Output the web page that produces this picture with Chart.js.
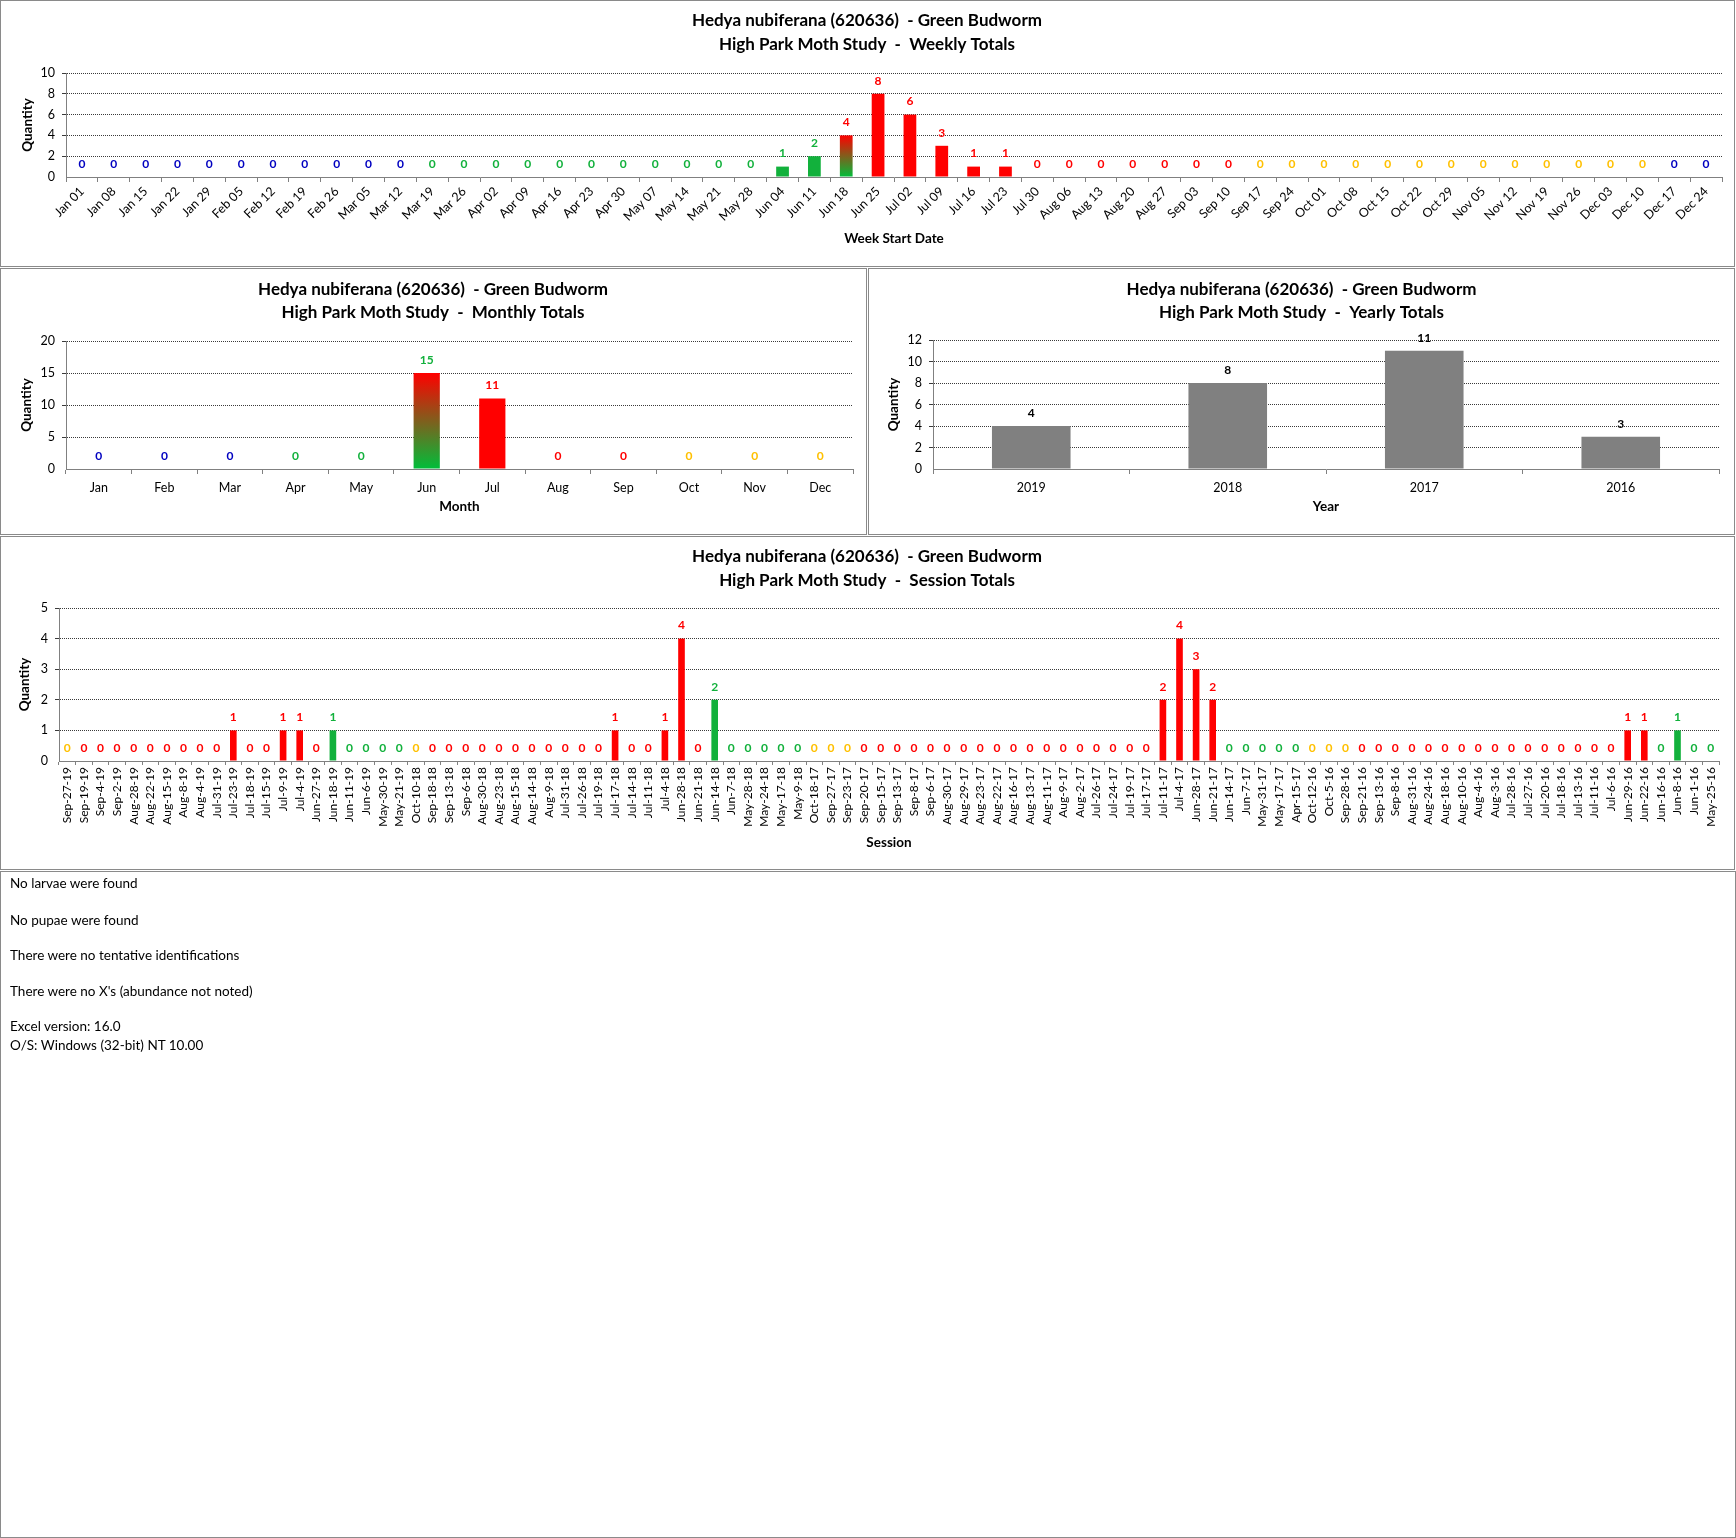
<!DOCTYPE html>
<html>
<head>
<meta charset="utf-8">
<script src="https://cdn.jsdelivr.net/npm/chart.js@4.4.1/dist/chart.umd.min.js"></script>
<style>
  html, body { margin: 0; padding: 0; background: #fff; }
  #page { position: relative; width: 1736px; height: 1538px; overflow: hidden; background: #fff; font-family: Lato, "Open Sans", sans-serif; }
  .panel { position: absolute; box-sizing: border-box; border: 1px solid #8a8a8a; }
  canvas { position: absolute; }
  .note { position: absolute; left: 10px; font-size: 13.5px; color: #000; white-space: nowrap; line-height: 16px; }
</style>
</head>
<body>
<div id="page">
  <canvas id="cWeek" width="1734" height="266" style="left:0;top:0"></canvas>
  <canvas id="cMonth" width="866" height="266" style="left:0;top:268px"></canvas>
  <canvas id="cYear" width="865" height="266" style="left:869px;top:268px"></canvas>
  <canvas id="cSession" width="1734" height="332" style="left:0;top:537px"></canvas>
  <div class="panel" style="left:0;top:0;width:1735px;height:267px"></div>
  <div class="panel" style="left:0;top:268px;width:867px;height:267px"></div>
  <div class="panel" style="left:868px;top:268px;width:867px;height:267px"></div>
  <div class="panel" style="left:0;top:536px;width:1735px;height:334px"></div>
  <div class="panel" style="left:0;top:871px;width:1736px;height:667px"></div>
  <div class="note" style="top:875px">No larvae were found</div>
  <div class="note" style="top:912px">No pupae were found</div>
  <div class="note" style="top:947px">There were no tentative identifications</div>
  <div class="note" style="top:983px">There were no X's (abundance not noted)</div>
  <div class="note" style="top:1018px">Excel version: 16.0</div>
  <div class="note" style="top:1037px">O/S: Windows (32-bit) NT 10.00</div>
</div>
<script>
// ---------------- DATA ----------------
const speciesTitle = "Hedya nubiferana (620636)  - Green Budworm";

const weekLabels = ["Jan 01","Jan 08","Jan 15","Jan 22","Jan 29","Feb 05","Feb 12","Feb 19","Feb 26","Mar 05","Mar 12","Mar 19","Mar 26","Apr 02","Apr 09","Apr 16","Apr 23","Apr 30","May 07","May 14","May 21","May 28","Jun 04","Jun 11","Jun 18","Jun 25","Jul 02","Jul 09","Jul 16","Jul 23","Jul 30","Aug 06","Aug 13","Aug 20","Aug 27","Sep 03","Sep 10","Sep 17","Sep 24","Oct 01","Oct 08","Oct 15","Oct 22","Oct 29","Nov 05","Nov 12","Nov 19","Nov 26","Dec 03","Dec 10","Dec 17","Dec 24"];
const weekValues = [0,0,0,0,0,0,0,0,0,0,0,0,0,0,0,0,0,0,0,0,0,0,1,2,4,8,6,3,1,1,0,0,0,0,0,0,0,0,0,0,0,0,0,0,0,0,0,0,0,0,0,0];
// season code per week: b=winter, g=spring, m=mixed, r=summer, y=fall
const weekSeason = ["b","b","b","b","b","b","b","b","b","b","b","g","g","g","g","g","g","g","g","g","g","g","g","g","m","r","r","r","r","r","r","r","r","r","r","r","r","y","y","y","y","y","y","y","y","y","y","y","y","y","b","b"];

const monthLabels = ["Jan","Feb","Mar","Apr","May","Jun","Jul","Aug","Sep","Oct","Nov","Dec"];
const monthValues = [0,0,0,0,0,15,11,0,0,0,0,0];
const monthSeason = ["b","b","b","g","g","mg","r","r","r","y","y","y"];

const yearLabels = ["2019","2018","2017","2016"];
const yearValues = [4,8,11,3];
const yearSeason = ["k","k","k","k"];

const sessionLabels = ["Sep-27-19","Sep-19-19","Sep-4-19","Sep-2-19","Aug-28-19","Aug-22-19","Aug-15-19","Aug-8-19","Aug-4-19","Jul-31-19","Jul-23-19","Jul-18-19","Jul-15-19","Jul-9-19","Jul-4-19","Jun-27-19","Jun-18-19","Jun-11-19","Jun-6-19","May-30-19","May-21-19",
"Oct-10-18","Sep-18-18","Sep-13-18","Sep-6-18","Aug-30-18","Aug-23-18","Aug-15-18","Aug-14-18","Aug-9-18","Jul-31-18","Jul-26-18","Jul-19-18","Jul-17-18","Jul-14-18","Jul-11-18","Jul-4-18","Jun-28-18","Jun-21-18","Jun-14-18","Jun-7-18","May-28-18","May-24-18","May-17-18","May-9-18",
"Oct-18-17","Sep-27-17","Sep-23-17","Sep-20-17","Sep-15-17","Sep-13-17","Sep-8-17","Sep-6-17","Aug-30-17","Aug-29-17","Aug-23-17","Aug-22-17","Aug-16-17","Aug-13-17","Aug-11-17","Aug-9-17","Aug-2-17","Jul-26-17","Jul-24-17","Jul-19-17","Jul-17-17","Jul-11-17","Jul-4-17","Jun-28-17","Jun-21-17","Jun-14-17","Jun-7-17","May-31-17","May-17-17","Apr-15-17",
"Oct-12-16","Oct-5-16","Sep-28-16","Sep-21-16","Sep-13-16","Sep-8-16","Aug-31-16","Aug-24-16","Aug-18-16","Aug-10-16","Aug-4-16","Aug-3-16","Jul-28-16","Jul-27-16","Jul-20-16","Jul-18-16","Jul-13-16","Jul-11-16","Jul-6-16","Jun-29-16","Jun-22-16","Jun-16-16","Jun-8-16","Jun-1-16","May-25-16"];
const sessionValues = [0,0,0,0,0,0,0,0,0,0,1,0,0,1,1,0,1,0,0,0,0,
0,0,0,0,0,0,0,0,0,0,0,0,1,0,0,1,4,0,2,0,0,0,0,0,
0,0,0,0,0,0,0,0,0,0,0,0,0,0,0,0,0,0,0,0,0,2,4,3,2,0,0,0,0,0,
0,0,0,0,0,0,0,0,0,0,0,0,0,0,0,0,0,0,0,1,1,0,1,0,0];
const sessionSeason = ["y","r","r","r","r","r","r","r","r","r","r","r","r","r","r","r","g","g","g","g","g",
"y","r","r","r","r","r","r","r","r","r","r","r","r","r","r","r","r","r","g","g","g","g","g","g",
"y","y","y","r","r","r","r","r","r","r","r","r","r","r","r","r","r","r","r","r","r","r","r","r","r","g","g","g","g","g",
"y","y","y","r","r","r","r","r","r","r","r","r","r","r","r","r","r","r","r","r","r","g","g","g","g"];

// ---------------- STYLE ----------------
const FONT = "Lato, 'Open Sans', sans-serif";
const RED = "#FF0000", GREEN = "#12B13C", BLUE = "#0000C0", YELLOW = "#FFC000", GRAY = "#808080";
const barColorOf = {b: BLUE, g: GREEN, r: RED, y: YELLOW, m: "grad", mg: "grad", k: GRAY};
const labelColorOf = {b: BLUE, g: GREEN, r: RED, y: YELLOW, m: RED, mg: GREEN, k: "#000"};

function gradientFill(ctx) {
  const chart = ctx.chart;
  const ys = chart.scales && chart.scales.y;
  if (!chart.chartArea || !ys) return RED;
  const v = ctx.raw || 0;
  const top = ys.getPixelForValue(v), bot = ys.getPixelForValue(0);
  const g = chart.ctx.createLinearGradient(0, top, 0, bot);
  g.addColorStop(0, "#FF0000");
  g.addColorStop(1, "#00BE3A");
  return g;
}

function barFill(season) {
  return ctx => {
    const c = barColorOf[season[ctx.dataIndex]];
    return c === "grad" ? gradientFill(ctx) : c;
  };
}

const headerPlugin = {
  id: 'header',
  afterDraw(chart, args, opts) {
    if (!opts || !opts.lines) return;
    const ctx = chart.ctx;
    ctx.save();
    ctx.font = "bold 17px " + FONT;
    ctx.fillStyle = "#000";
    ctx.textAlign = "center";
    ctx.textBaseline = "middle";
    opts.lines.forEach((t, i) => ctx.fillText(t, chart.width / 2, opts.ys[i]));
    ctx.restore();
  }
};

const valueLabelPlugin = {
  id: 'valueLabels',
  afterDatasetsDraw(chart, args, opts) {
    if (!opts || !opts.colors) return;
    const ctx = chart.ctx;
    const meta = chart.getDatasetMeta(0);
    const data = chart.data.datasets[0].data;
    ctx.save();
    ctx.font = "bold " + opts.size + "px " + FONT;
    ctx.textAlign = "center";
    ctx.textBaseline = "middle";
    meta.data.forEach((bar, i) => {
      ctx.fillStyle = opts.colors[i];
      ctx.fillText(String(data[i]), bar.x, bar.y - 13);
    });
    ctx.restore();
  }
};

function makeChart(id, cfg) {
  const el = document.getElementById(id);
  return new Chart(el, {
    type: 'bar',
    data: {
      labels: cfg.labels,
      datasets: [{
        data: cfg.values,
        backgroundColor: barFill(cfg.season),
        borderWidth: 0,
        barPercentage: 0.4,
        categoryPercentage: 1.0
      }]
    },
    options: {
      responsive: false,
      animation: false,
      devicePixelRatio: 1,
      layout: { padding: { left: 0, top: cfg.top, right: cfg.right, bottom: 0 } },
      plugins: {
        legend: { display: false },
        tooltip: { enabled: false },
        header: { lines: [speciesTitle, cfg.subtitle], ys: cfg.titleYs },
        valueLabels: { colors: cfg.season.map(s => labelColorOf[s]), size: cfg.labelSize }
      },
      scales: {
        x: {
          afterFit: s => { s.height = cfg.xHeight; },
          grid: { display: true, offset: true, drawOnChartArea: false, drawTicks: true, tickLength: cfg.xTickLen, color: GRAY },
          border: { display: true, color: GRAY, width: 1 },
          ticks: {
            autoSkip: false,
            minRotation: cfg.rotation, maxRotation: cfg.rotation,
            padding: cfg.xTickPad,
            color: "#000",
            font: { family: FONT, size: cfg.xFont }
          },
          title: { display: true, text: cfg.xTitle, color: "#000", font: { family: FONT, size: 13.5, weight: 'bold' }, padding: { top: 0, bottom: cfg.xTitlePad } }
        },
        y: {
          min: 0, max: cfg.yMax,
          afterFit: s => { s.width = cfg.yWidth; },
          grid: {
            display: true, drawTicks: true, tickLength: 4,
            color: c => (c.tick && c.tick.value === 0) ? "rgba(0,0,0,0)" : "#3a3a3a",
            lineWidth: 1
          },
          border: { display: true, color: GRAY, width: 1, dash: [1, 1] },
          ticks: { stepSize: cfg.yStep, padding: 7, color: "#000", font: { family: FONT, size: 12.5 } },
          title: { display: true, text: "Quantity", color: "#000", font: { family: FONT, size: 13.5, weight: 'bold' }, padding: { top: cfg.yTitlePad, bottom: 0 } }
        }
      }
    },
    plugins: [headerPlugin, valueLabelPlugin]
  });
}

function build() {
  makeChart('cWeek', {
    labels: weekLabels, values: weekValues, season: weekSeason,
    subtitle: "High Park Moth Study  -  Weekly Totals", titleYs: [21, 45],
    top: 73, right: 12, yWidth: 66, xHeight: 89, yMax: 10, yStep: 2,
    rotation: 45, xFont: 12.5, xTickLen: 5, xTickPad: 2,
    xTitle: "Week Start Date", xTitlePad: 19, yTitlePad: 20, labelSize: 12
  });
  makeChart('cMonth', {
    labels: monthLabels, values: monthValues, season: monthSeason,
    subtitle: "High Park Moth Study  -  Monthly Totals", titleYs: [22, 45],
    top: 73, right: 13, yWidth: 66, xHeight: 65, yMax: 20, yStep: 5,
    rotation: 0, xFont: 12.5, xTickLen: 5, xTickPad: 6,
    xTitle: "Month", xTitlePad: 19, yTitlePad: 19, labelSize: 12
  });
  makeChart('cYear', {
    labels: yearLabels, values: yearValues, season: yearSeason,
    subtitle: "High Park Moth Study  -  Yearly Totals", titleYs: [22, 45],
    top: 72, right: 15, yWidth: 64, xHeight: 65, yMax: 12, yStep: 2,
    rotation: 0, xFont: 12.5, xTickLen: 5, xTickPad: 6,
    xTitle: "Year", xTitlePad: 19, yTitlePad: 17, labelSize: 12
  });
  makeChart('cSession', {
    labels: sessionLabels, values: sessionValues, season: sessionSeason,
    subtitle: "High Park Moth Study  -  Session Totals", titleYs: [20, 44],
    top: 71, right: 15, yWidth: 59, xHeight: 108, yMax: 5, yStep: 1,
    rotation: 90, xFont: 12, xTickLen: 4, xTickPad: 2,
    xTitle: "Session", xTitlePad: 18, yTitlePad: 17, labelSize: 12
  });
}

if (document.fonts && document.fonts.load) {
  Promise.all([
    document.fonts.load("bold 17px Lato"),
    document.fonts.load("12px Lato")
  ]).then(build, build);
} else {
  build();
}
</script>
</body>
</html>
